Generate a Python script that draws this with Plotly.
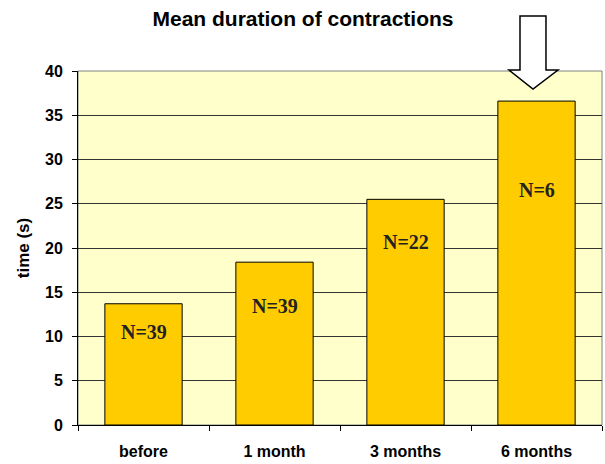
import plotly.graph_objects as go

categories = ["before", "1 month", "3 months", "6 months"]
mean_time = [13.7, 18.4, 25.5, 36.6]
n_labels = ["N=39", "N=39", "N=22", "N=6"]
label_y = [10.5, 13.5, 20.7, 26.5]
y_ticks = [0, 5, 10, 15, 20, 25, 30, 35, 40]

fig = go.Figure()
fig.add_trace(go.Bar(
    x=categories, y=mean_time,
    marker=dict(color="#FFCC00", line=dict(color="black", width=1)),
    width=0.59, hoverinfo="skip",
))

for c, t, ly in zip(categories, n_labels, label_y):
    fig.add_annotation(x=c, y=ly, text=f"<b>{t}</b>", showarrow=False,
                       font=dict(family="Liberation Serif", size=20, color="#222"),
                       xref="x", yref="y")

# big hollow arrow pointing at last bar (paper coords)
def px(x):
    return (x - 78) / 524
def py(y):
    return (425 - y) / 354

pts = [(520, 16), (546, 16), (546, 70), (558, 70), (533, 89), (509, 70), (520, 70)]
path = "M " + " L ".join(f"{px(a):.4f},{py(b):.4f}" for a, b in pts) + " Z"
fig.add_shape(type="path", path=path, xref="paper", yref="paper",
              line=dict(color="black", width=1.5), fillcolor="white", layer="above")

fig.update_layout(
    width=605, height=464,
    margin=dict(l=78, r=3, t=71, b=39, autoexpand=False),
    paper_bgcolor="white", plot_bgcolor="#FFFFCC",
    showlegend=False,
    title=dict(text="<b>Mean duration of contractions</b>", x=303 / 605, xanchor="center",
               y=1 - 19 / 464, yanchor="middle",
               font=dict(family="Liberation Sans", size=21, color="black")),
    font=dict(family="Liberation Sans", color="black"),
)
fig.update_xaxes(
    type="category", showline=True, linecolor="black", linewidth=1,
    ticks="outside", ticklen=5, tickcolor="black", tickson="boundaries",
    tickfont=dict(size=16, family="Liberation Sans", color="black"),
    tickvals=categories, ticktext=[f"<b>{c}</b>" for c in categories],
    mirror=False, showgrid=False, automargin=False, ticklabelstandoff=12,
)
fig.update_yaxes(
    range=[0, 40], tickvals=y_ticks, ticktext=[f"<b>{v}</b>" for v in y_ticks],
    showline=True, linecolor="black", linewidth=1,
    ticks="outside", ticklen=5, tickcolor="black",
    tickfont=dict(size=16, family="Liberation Sans", color="black"),
    showgrid=True, gridcolor="#333333", gridwidth=1, zeroline=False, automargin=False,
    ticklabelstandoff=6,
    title=dict(text="<b>time (s)</b>", font=dict(size=17, family="Liberation Sans", color="black"),
               standoff=11),
)
fig.add_shape(type="rect", xref="paper", yref="paper", x0=0, x1=1, y0=0, y1=1,
              line=dict(color="#808080", width=1), fillcolor="rgba(0,0,0,0)", layer="below")

fig.write_html("out.html", config={"displayModeBar": False},
               post_script="document.body.style.margin='0';")
